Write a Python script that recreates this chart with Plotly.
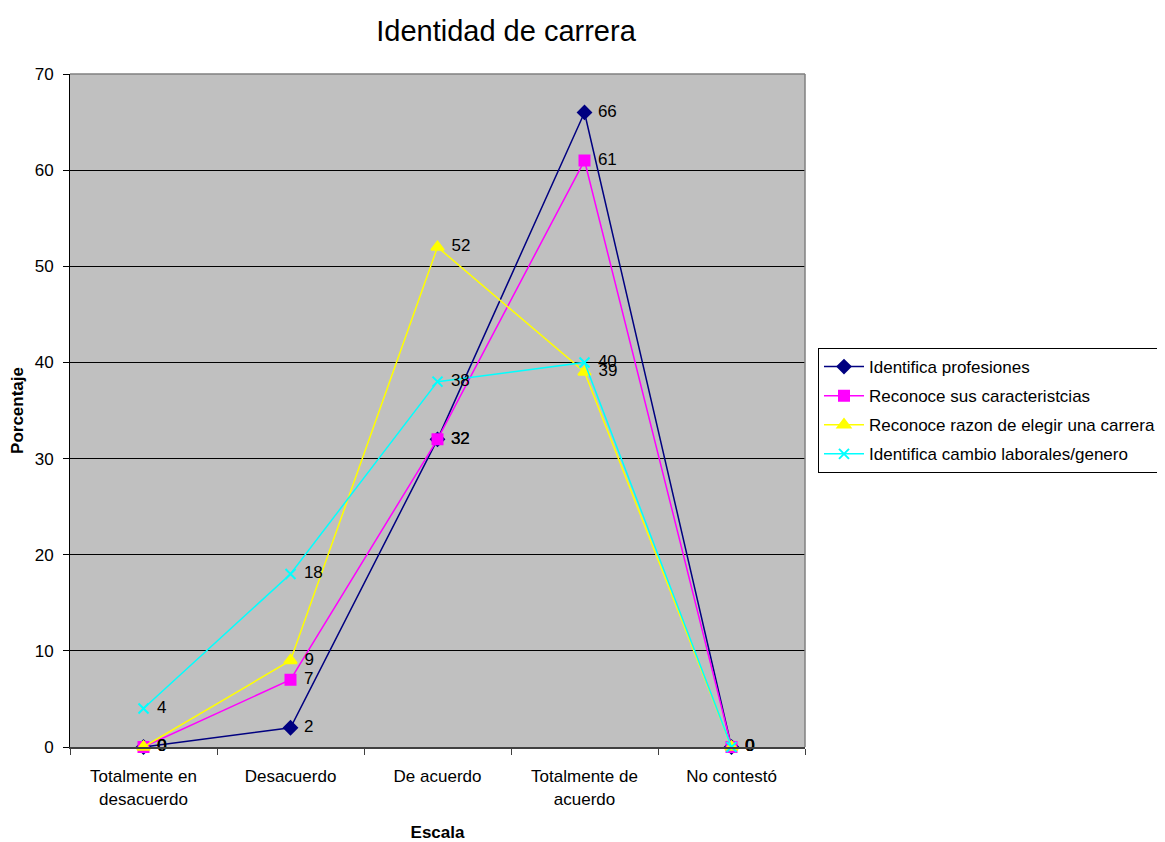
import plotly.graph_objects as go

categories = ["Totalmente en<br>desacuerdo", "Desacuerdo", "De acuerdo", "Totalmente de<br>acuerdo", "No contestó"]
series_names = ["Identifica profesiones", "Reconoce sus caracteristcias",
                "Reconoce razon de elegir una carrera", "Identifica cambio laborales/genero"]
identifica_profesiones = [0, 2, 32, 66, 0]
reconoce_caracteristicas = [0, 7, 32, 61, 0]
reconoce_razon = [0, 9, 52, 39, 0]
identifica_cambio = [4, 18, 38, 40, 0]
y_ticks = [0, 10, 20, 30, 40, 50, 60, 70]

values = [identifica_profesiones, reconoce_caracteristicas, reconoce_razon, identifica_cambio]
colors = ["#000080", "#FF00FF", "#FFFF00", "#00FFFF"]
symbols = ["diamond", "square", "triangle-up", "x-thin-open"]
sizes = [10, 10, 11, 10]

FONT = "Liberation Sans, Arial"
fig = go.Figure()
for i, (name, vals, c, s, sz) in enumerate(zip(series_names, values, colors, symbols, sizes)):
    fig.add_trace(go.Scatter(
        x=categories, y=vals, name=name, mode="lines+markers+text",
        legendgroup="g%d" % i,
        line=dict(color=c, width=1.5),
        marker=dict(symbol=s, size=sz, color=c, line=dict(color=c, width=2)),
        text=[" \u200a" + str(v) for v in vals], textposition="middle right",
        textfont=dict(family=FONT, size=17, color="black"),
        cliponaxis=False,
    ))

# page body has an 8px margin, so the figure is laid out 8px smaller
W, H = 1157, 834
L, R, T, B = 62, 360, 66, 95
PW = W - L - R
fig.update_layout(
    width=W, height=H,
    margin=dict(l=L, r=R, t=T, b=B, autoexpand=False),
    paper_bgcolor="white", plot_bgcolor="#C0C0C0",
    font=dict(family=FONT, size=17, color="black"),
    title=dict(text="Identidad de carrera", xref="container", x=(506 - 8) / W, xanchor="center",
               yref="container", y=1 - 23 / H, yanchor="middle", font=dict(size=29)),
    showlegend=True,
    legend=dict(x=(810 - L) / PW, xanchor="left", y=0.5, yanchor="middle",
                bordercolor="black", borderwidth=1, bgcolor="white",
                font=dict(size=17), tracegroupgap=4, itemwidth=40),
    xaxis=dict(type="category", range=[-0.5, len(categories) - 0.5],
               showline=True, linecolor="#404040", linewidth=2,
               ticks="outside", tickson="boundaries", ticklen=6, tickcolor="#404040",
               ticklabelstandoff=13, automargin=False,
               showgrid=False, title=dict(text="<b>Escala</b>", font=dict(size=17), standoff=24)),
    yaxis=dict(range=[0, 70], tickvals=y_ticks, showline=True, linecolor="black", linewidth=1,
               ticks="outside", ticklen=6, tickcolor="black", showgrid=True, gridcolor="black",
               gridwidth=1, zeroline=False, ticklabelstandoff=6, automargin=False,
               title=dict(text="<b>Porcentaje</b>", font=dict(size=17), standoff=10)),
)
# gray border of plot area (top and right)
fig.add_shape(type="line", xref="paper", yref="paper", x0=0, x1=1, y0=1, y1=1,
              line=dict(color="#808080", width=1.5))
fig.add_shape(type="line", xref="paper", yref="paper", x0=1, x1=1, y0=0, y1=1,
              line=dict(color="#808080", width=1.5))

fig.write_html("out.html")
